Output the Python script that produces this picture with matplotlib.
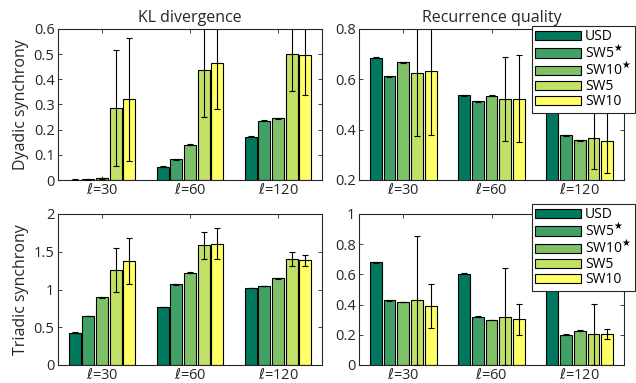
import numpy as np
import matplotlib
matplotlib.use('Agg')
import matplotlib.pyplot as plt
from matplotlib.ticker import FuncFormatter

plt.rcParams['font.family'] = ['Open Sans', 'DejaVu Sans']
plt.rcParams['mathtext.fontset'] = 'dejavusans'

# Datos
grupos = [r'$\ell$=30', r'$\ell$=60', r'$\ell$=120']
metodos = ['USD', r'SW5$^\bigstar$', r'SW10$^\bigstar$', 'SW5', 'SW10']

# KL divergence, sincronía diádica (filas = métodos, columnas = grupos)
kl_dy = [[0.001, 0.053, 0.172],
         [0.002, 0.083, 0.235],
         [0.007, 0.140, 0.245],
         [0.285, 0.438, 0.500],
         [0.320, 0.466, 0.498]]
kl_dy_err = [[0.002, 0.002, 0.002],
             [0.002, 0.002, 0.002],
             [0.002, 0.002, 0.002],
             [0.230, 0.188, 0.147],
             [0.243, 0.183, 0.162]]

# Recurrence quality, sincronía diádica
rq_dy = [[0.686, 0.536, 0.476],
         [0.612, 0.512, 0.377],
         [0.667, 0.535, 0.357],
         [0.625, 0.521, 0.365],
         [0.632, 0.523, 0.354]]
rq_dy_err = [[0.002, 0.002, 0.002],
             [0.002, 0.002, 0.002],
             [0.002, 0.002, 0.002],
             [0.252, 0.168, 0.120],
             [0.253, 0.172, 0.128]]

# KL divergence, sincronía triádica
kl_tr = [[0.428, 0.768, 1.020],
         [0.649, 1.068, 1.046],
         [0.896, 1.223, 1.148],
         [1.258, 1.585, 1.400],
         [1.377, 1.607, 1.386]]
kl_tr_err = [[0.006, 0.006, 0.006],
             [0.006, 0.006, 0.006],
             [0.006, 0.006, 0.006],
             [0.287, 0.181, 0.093],
             [0.300, 0.203, 0.077]]

# Recurrence quality, sincronía triádica
rq_tr = [[0.680, 0.605, 0.523],
         [0.428, 0.320, 0.200],
         [0.417, 0.298, 0.227],
         [0.428, 0.320, 0.203],
         [0.389, 0.302, 0.205]]
rq_tr_err = [[0.003, 0.003, 0.003],
             [0.003, 0.003, 0.003],
             [0.003, 0.003, 0.003],
             [0.428, 0.320, 0.200],
             [0.146, 0.104, 0.036]]

colores = plt.cm.summer(np.linspace(0, 1, 5))
colores[0] = (0.0, 0.47, 0.37, 1.0)  # USD un poco más oscuro

fig = plt.figure(figsize=(6.36, 3.83), dpi=100)
W, H = 636, 383


def caja(x0, x1, y0, y1):
    return [x0 / W, (H - y1) / H, (x1 - x0) / W, (y1 - y0) / H]


ax_tl = fig.add_axes(caja(58, 322, 29, 180))
ax_tr = fig.add_axes(caja(359, 624, 29, 180))
ax_bl = fig.add_axes(caja(58, 322, 214, 365))
ax_br = fig.add_axes(caja(359, 624, 214, 365))


def graficar(ax, vals, errs, ylim, yticks):
    x = np.arange(1, len(grupos) + 1)
    paso = 0.155
    ancho = 0.135
    for i in range(len(metodos)):
        xi = x + (i - 2) * paso
        ax.bar(xi, vals[i], ancho, color=colores[i], edgecolor='black',
               linewidth=0.8, label=metodos[i], zorder=2)
        ax.errorbar(xi, vals[i], yerr=errs[i], fmt='none', ecolor='black',
                    elinewidth=0.8, capsize=2.2, capthick=0.8, zorder=3)
    ax.set_xlim(0.5, 3.5)
    ax.set_ylim(*ylim)
    ax.set_xticks(x)
    ax.set_xticklabels(grupos)
    ax.set_yticks(yticks)
    ax.yaxis.set_major_formatter(FuncFormatter(lambda v, p: '%g' % round(v, 3)))
    ax.tick_params(direction='in', length=3, width=0.6, top=True, right=True,
                   labelsize=10.5, colors='#262626', pad=2.5)
    for s in ax.spines.values():
        s.set_linewidth(0.8)
        s.set_color('#262626')


graficar(ax_tl, kl_dy, kl_dy_err, (0, 0.6), np.arange(0, 0.61, 0.1))
graficar(ax_tr, rq_dy, rq_dy_err, (0.2, 0.8), [0.2, 0.4, 0.6, 0.8])
graficar(ax_bl, kl_tr, kl_tr_err, (0, 2), [0, 0.5, 1, 1.5, 2])
graficar(ax_br, rq_tr, rq_tr_err, (0, 1), [0, 0.2, 0.4, 0.6, 0.8, 1])

ax_tl.set_title('KL divergence', fontsize=11.5, color='#262626', pad=5)
ax_tr.set_title('Recurrence quality', fontsize=11.5, color='#262626', pad=5)
ax_tl.set_ylabel('Dyadic synchrony', fontsize=11.5, color='#262626', labelpad=3)
ax_bl.set_ylabel('Triadic synchrony', fontsize=11.5, color='#262626', labelpad=3)

for ax, top in [(ax_tr, 26), (ax_br, 204)]:
    leg = ax.legend(loc='upper right', bbox_to_anchor=(635 / W, (H - top) / H),
                    bbox_transform=fig.transFigure, fontsize=10, frameon=True,
                    fancybox=False, edgecolor='#262626', handlelength=3.3,
                    handleheight=0.65, handletextpad=0.3, labelspacing=0.0,
                    borderpad=0.25, borderaxespad=0, framealpha=1)
    leg.get_frame().set_linewidth(0.8)

fig.savefig('out.png', dpi=100)
